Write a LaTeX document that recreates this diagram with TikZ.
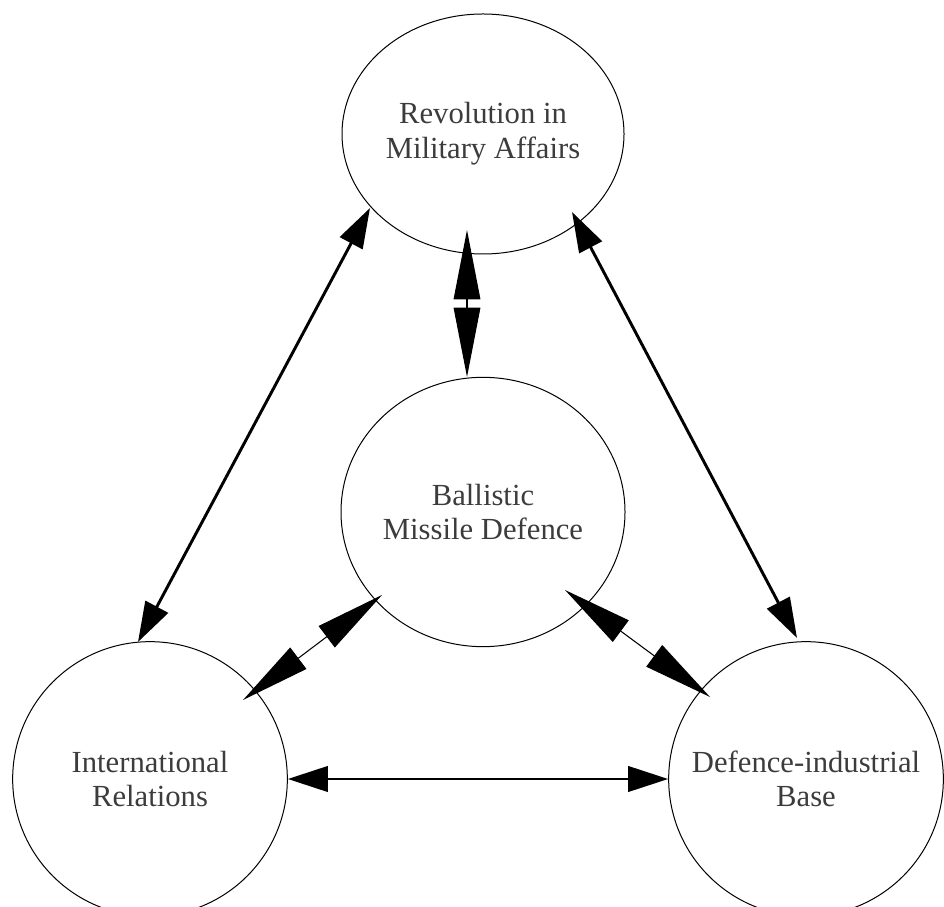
\documentclass[tikz,border=0pt]{standalone}
\usepackage{fontspec}
\setmainfont{Liberation Serif}
\usetikzlibrary{arrows.meta,positioning,calc,shapes.geometric}

\definecolor{txtgray}{HTML}{3C3C3C}

\tikzset{
  bubble/.style={draw, ellipse, line width=0.75pt, inner sep=-20pt,
    align=center, text=txtgray, font=\fontsize{23}{26}\selectfont},
  thinlink/.style={line width=0.8pt,
    {Triangle[length=52pt,width=20pt]}-{Triangle[length=52pt,width=20pt]}},
  thicklink/.style={line width=2.2pt,
    {Triangle[length=30pt,width=19pt]}-{Triangle[length=30pt,width=19pt]}},
}

\begin{document}
\begin{tikzpicture}[x=0.75pt,y=0.75pt]
\useasboundingbox (0,0) rectangle (944,906);

% the four fields
\node[bubble, minimum width=211.5pt, minimum height=180pt] (rma) at (483,772)
  {Revolution in\\Military Affairs};
\node[bubble, minimum width=213pt, minimum height=202pt] (bmd) at (483,394)
  {Ballistic\\Missile Defence};
\node[bubble, minimum width=206pt, minimum height=206pt] (ir) at (150,127)
  {International\\Relations};
\node[bubble, minimum width=206pt, minimum height=206pt] (dib) at (806,127)
  {Defence-industrial\\Base};

% links to the centre
\draw[thinlink] ($(rma.center)+(-16,-96)$) -- ($(bmd.center)+(-16,135)$);
\draw[thinlink] ($(bmd.center)+(-101,-83)$) -- ($(ir.center)+(93,79)$);
\draw[thinlink] ($(bmd.center)+(82,-78)$) -- ($(dib.center)+(-96,82)$);

% outer triangle
\draw[thicklink] ($(rma.center)+(-113,-74)$) -- ($(ir.center)+(-12,137)$);
\draw[thicklink] ($(rma.center)+(89,-78)$) -- ($(dib.center)+(-9,141)$);
\draw[thicklink] (ir.east) -- (dib.west);
\end{tikzpicture}
\end{document}
